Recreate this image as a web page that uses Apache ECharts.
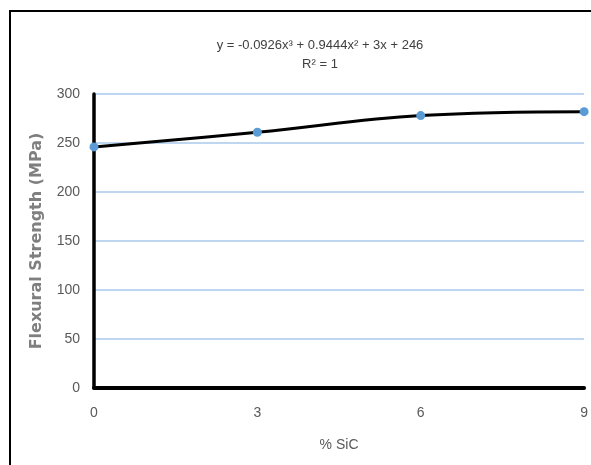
<!DOCTYPE html>
<html>
<head>
<meta charset="utf-8">
<script src="https://cdn.jsdelivr.net/npm/echarts@6/dist/echarts.min.js"></script>
<style>
  html, body { margin: 0; padding: 0; background: #fff; }
  #chart { width: 591px; height: 465px; }
</style>
</head>
<body>
<div id="chart"></div>
<script>
// % SiC vs flexural strength
var sic = [0, 3, 6, 9]
var strength = [246, 261, 278, 282]
var yTicks = [0, 50, 100, 150, 200, 250, 300]
var xTicks = [0, 3, 6, 9]
var equation = 'y = -0.0926x³ + 0.9444x² + 3x + 246'
var rSquared = 'R² = 1'

var narrow = '"Liberation Sans Narrow", "Liberation Sans", sans-serif'

var points = sic.map(function (x, i) {
  return [x, strength[i]]
})

var option = {
  backgroundColor: '#fff',
  animation: false,
  title: {
    text: equation + '\n' + rSquared,
    left: 315,
    top: 31,
    textAlign: 'center',
    textStyle: {
      fontFamily: narrow,
      fontSize: 13,
      fontWeight: 'normal',
      color: '#404040',
      lineHeight: 19
    }
  },
  graphic: [{
    type: 'rect',
    shape: { x: 10, y: 11, width: 640, height: 520 },
    style: { fill: 'none', stroke: '#000', lineWidth: 2 },
    z: 100
  }],
  grid: {
    left: 94,
    right: 5,
    top: 94,
    bottom: 77
  },
  xAxis: {
    type: 'value',
    min: xTicks[0],
    max: xTicks[xTicks.length - 1],
    interval: 3,
    name: '% SiC',
    nameLocation: 'middle',
    nameGap: 50,
    nameTextStyle: { fontFamily: narrow, fontSize: 14, color: '#595959' },
    axisLine: { lineStyle: { color: '#000', width: 4 } },
    axisTick: { show: false },
    splitLine: { show: false },
    axisLabel: { fontFamily: narrow, fontSize: 14, color: '#595959', margin: 18 }
  },
  yAxis: {
    type: 'value',
    min: yTicks[0],
    max: yTicks[yTicks.length - 1],
    interval: 50,
    name: 'Flexural Strength (MPa)',
    nameLocation: 'middle',
    nameGap: 49,
    nameTextStyle: { fontFamily: 'DejaVu Sans', fontSize: 16, fontWeight: 'bold', color: '#7f7f7f' },
    axisLine: { show: true, lineStyle: { color: '#000', width: 3.5 } },
    axisTick: { show: false },
    splitLine: { lineStyle: { color: '#a9c8ea', width: 1.5 } },
    axisLabel: { fontFamily: narrow, fontSize: 14, color: '#595959', margin: 14 }
  },
  series: [{
    type: 'line',
    data: points,
    smooth: 0.4,
    symbol: 'circle',
    symbolSize: 9,
    lineStyle: { color: '#000', width: 3 },
    itemStyle: { color: '#5b9bd5' },
    z: 5
  }]
}

var myChart = echarts.init(document.getElementById('chart'))
myChart.setOption(option, true)
</script>
</body>
</html>
